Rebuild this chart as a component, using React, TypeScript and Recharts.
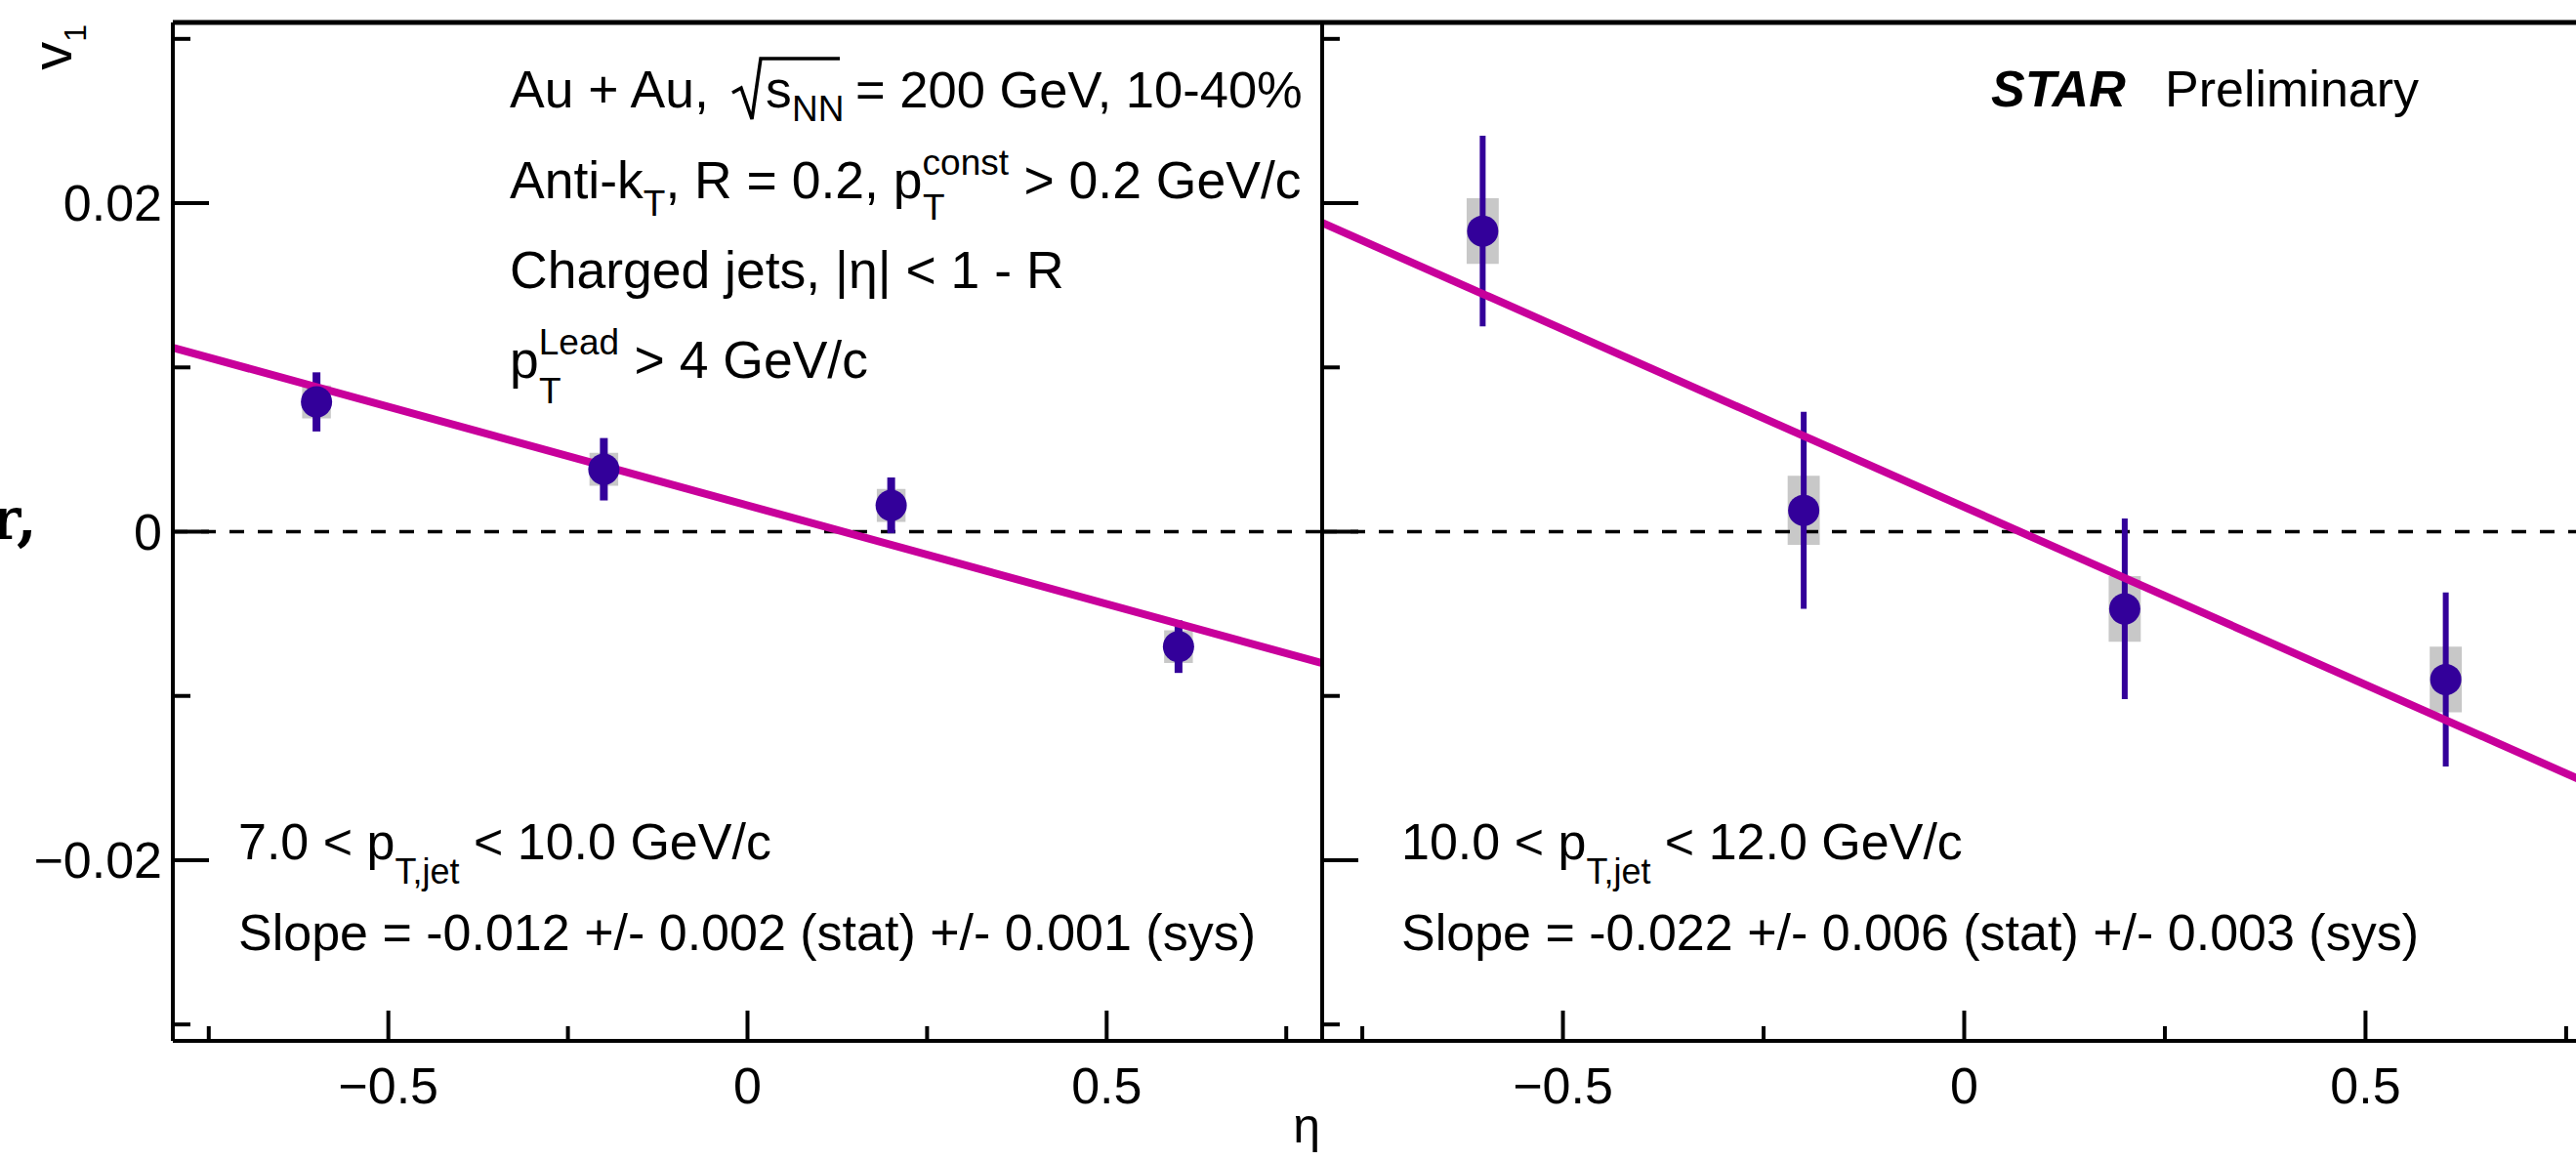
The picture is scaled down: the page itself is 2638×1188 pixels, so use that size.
import React from "react";
import {
  ComposedChart,
  Scatter,
  Line,
  XAxis,
  YAxis,
  ErrorBar,
  ReferenceLine,
  ReferenceArea,
} from "recharts";

// eta bin centres (shared by both pT,jet bins)
const etaBins = [-0.6, -0.2, 0.2, 0.6];

// 7.0 < pT,jet < 10.0 GeV/c
const v1Low = [0.0079, 0.0038, 0.0016, -0.007];
const statLow = [0.0018, 0.0019, 0.0017, 0.0016];
const sysLow = [0.001, 0.001, 0.001, 0.001];
const fitLow = [0.0112, -0.008];

// 10.0 < pT,jet < 12.0 GeV/c
const v1High = [0.0183, 0.0013, -0.0047, -0.009];
const statHigh = [0.0058, 0.006, 0.0055, 0.0053];
const sysHigh = [0.002, 0.0021, 0.002, 0.002];
const fitHigh = [0.0188, -0.0158];

// linear fit drawn across the whole eta range
const fitEta = [-0.8, 0.8];

const xTicks = [-0.75, -0.5, -0.25, 0, 0.25, 0.5, 0.75];
const xMajor = [-0.5, 0, 0.5];
const yTicks = [-0.03, -0.02, -0.01, 0, 0.01, 0.02, 0.03];
const yMajor = [-0.02, 0, 0.02];

const FONT = "'Liberation Sans', Arial, Helvetica, sans-serif";
const FS = 52;
const SFS = 36;
const FS_TOP = 53.5;
const SFS_TOP = 37;
const MARKER = "#33009a";
const FIT = "#c8009b";
const SYS = "#c8c8c8";
const TM = 12; // tick margin used to recover the axis position

const fmt = (v: number) => {
  const s = String(Math.abs(v));
  return v < 0 ? "\u2212" + s : s;
};

const YTick = (props: any) => {
  const { x, y, payload, showLabel } = props;
  const ax = x + TM;
  const major = yMajor.includes(payload.value);
  return (
    <g>
      <line x1={ax} x2={ax + (major ? 37 : 18)} y1={y} y2={y} stroke="#000" strokeWidth={4} />
      {major && showLabel && (
        <text x={ax - 11} y={y} dy={18} textAnchor="end" fontSize={FS} fontFamily={FONT} fill="#000">
          {fmt(payload.value)}
        </text>
      )}
    </g>
  );
};

const XTick = (props: any) => {
  const { x, y, payload } = props;
  const ay = y - TM;
  const major = xMajor.includes(payload.value);
  return (
    <g>
      <line x1={x} x2={x} y1={ay} y2={ay - (major ? 31 : 15)} stroke="#000" strokeWidth={4} />
      {major && (
        <text x={x} y={ay + 64} textAnchor="middle" fontSize={FS} fontFamily={FONT} fill="#000">
          {fmt(payload.value)}
        </text>
      )}
    </g>
  );
};

type PanelProps = {
  left: number;
  yAxisWidth: number;
  plotWidth: number;
  showYLabels: boolean;
  v1: number[];
  stat: number[];
  sys: number[];
  fit: number[];
  barWidth: number;
};

function Panel({ left, yAxisWidth, plotWidth, showYLabels, v1, stat, sys, fit, barWidth }: PanelProps) {
  const points = etaBins.map((eta, i) => ({ eta, v1: v1[i], stat: stat[i] }));
  const fitData = fitEta.map((eta, i) => ({ eta, fit: fit[i] }));
  return (
    <div style={{ position: "absolute", left, top: 0 }}>
      <ComposedChart
        width={yAxisWidth + plotWidth + 10}
        height={1188}
        margin={{ top: 23, right: 10, bottom: 0, left: 0 }}
      >
        <XAxis
          type="number"
          dataKey="eta"
          domain={[-0.8, 0.8]}
          ticks={xTicks}
          interval={0}
          allowDataOverflow
          height={122}
          tickSize={0}
          tickMargin={TM}
          tickLine={false}
          axisLine={{ stroke: "#000", strokeWidth: 4 }}
          tick={(p: any) => <XTick {...p} />}
        />
        <YAxis
          type="number"
          domain={[-0.031, 0.031]}
          ticks={yTicks}
          interval={0}
          allowDataOverflow
          width={yAxisWidth}
          tickSize={0}
          tickMargin={TM}
          tickLine={false}
          axisLine={{ stroke: "#000", strokeWidth: 4 }}
          tick={(p: any) => <YTick {...p} showLabel={showYLabels} />}
        />
        <ReferenceLine y={0.031} stroke="#000" strokeWidth={5} />
        <ReferenceLine x={0.8} stroke="#000" strokeWidth={4} />
        <ReferenceLine y={0} stroke="#000" strokeWidth={3.5} strokeDasharray="15 14" />
        {etaBins.map((eta, i) => (
          <ReferenceArea
            key={i}
            x1={eta - 0.02}
            x2={eta + 0.02}
            y1={v1[i] - sys[i]}
            y2={v1[i] + sys[i]}
            fill={SYS}
            fillOpacity={1}
            stroke="none"
          />
        ))}
        <Scatter
          data={points}
          dataKey="v1"
          isAnimationActive={false}
          shape={(p: any) => <circle cx={p.cx} cy={p.cy} r={16} fill={MARKER} />}
        >
          <ErrorBar dataKey="stat" direction="y" width={0} strokeWidth={barWidth} stroke={MARKER} />
        </Scatter>
        <Line
          data={fitData}
          dataKey="fit"
          type="linear"
          stroke={FIT}
          strokeWidth={8}
          dot={false}
          activeDot={false}
          isAnimationActive={false}
        />
      </ComposedChart>
    </div>
  );
}

export default function App() {
  return (
    <div
      style={{
        position: "absolute",
        left: 0,
        top: 0,
        width: 2638,
        height: 1188,
        overflow: "hidden",
        background: "#fff",
      }}
    >
      <Panel
        left={0}
        yAxisWidth={177}
        plotWidth={1177}
        showYLabels
        v1={v1Low}
        stat={statLow}
        sys={sysLow}
        fit={fitLow}
        barWidth={8}
      />
      <Panel
        left={1300}
        yAxisWidth={54}
        plotWidth={1315}
        showYLabels={false}
        v1={v1High}
        stat={statHigh}
        sys={sysHigh}
        fit={fitHigh}
        barWidth={6}
      />
      <svg
        width={2638}
        height={1188}
        style={{ position: "absolute", left: 0, top: 0, pointerEvents: "none" }}
        fontFamily={FONT}
        fontSize={FS}
        fill="#000"
      >
        {/* fragment of the slide text cut at the left edge */}
        <text x={38} y={552} textAnchor="end" fontSize={60} fontWeight="bold" fontFamily="'DejaVu Serif', serif">
          r,
        </text>

        {/* y axis title */}
        <text transform="translate(73,25) rotate(-90)" textAnchor="end" fontSize={58}>
          v<tspan dy={15} fontSize={32}>1</tspan>
        </text>

        {/* x axis title */}
        <text x={1352} y={1170} textAnchor="end" fontSize={50}>
          η
        </text>

        {/* collision system / jet definition */}
        <g fontSize={FS_TOP}>
          <text x={522} y={110}>Au + Au,</text>
          <path d="M 750 95 L 759 90 L 770 122 L 779 60 L 860 60" fill="none" stroke="#000" strokeWidth={3.5} />
          <text x={784} y={110}>s</text>
          <text x={811} y={124} fontSize={SFS_TOP}>NN</text>
          <text x={876} y={110} fontSize={52.5}>= 200 GeV, 10-40%</text>

          <text x={522} y={203}>
            Anti-k<tspan dy={18} fontSize={SFS_TOP}>T</tspan>
            <tspan dy={-18}>, R = 0.2, p</tspan>
            <tspan dy={-24} fontSize={SFS_TOP}>const</tspan>
            <tspan dx={-88} dy={46} fontSize={SFS_TOP}>T</tspan>
            <tspan dx={66} dy={-22}> &gt; 0.2 GeV/c</tspan>
          </text>
          <text x={522} y={295}>
            Charged jets, |η| &lt; 1 - R
          </text>
          <text x={522} y={387}>
            p<tspan dy={-24} fontSize={SFS_TOP}>Lead</tspan>
            <tspan dx={-82} dy={50} fontSize={SFS_TOP}>T</tspan>
            <tspan dx={60} dy={-26}> &gt; 4 GeV/c</tspan>
          </text>
        </g>

        <text x={2039} y={109} fontWeight="bold" fontStyle="italic">
          STAR
        </text>
        <text x={2217} y={109}>
          Preliminary
        </text>

        {/* left panel annotations */}
        <text x={244} y={880}>
          7.0 &lt; p<tspan dy={25} fontSize={SFS}>T,jet</tspan>
          <tspan dy={-25}> &lt; 10.0 GeV/c</tspan>
        </text>
        <text x={244} y={973}>
          Slope = -0.012 +/- 0.002 (stat) +/- 0.001 (sys)
        </text>

        {/* right panel annotations */}
        <text x={1435} y={880}>
          10.0 &lt; p<tspan dy={25} fontSize={SFS}>T,jet</tspan>
          <tspan dy={-25}> &lt; 12.0 GeV/c</tspan>
        </text>
        <text x={1435} y={973}>
          Slope = -0.022 +/- 0.006 (stat) +/- 0.003 (sys)
        </text>
      </svg>
    </div>
  );
}
